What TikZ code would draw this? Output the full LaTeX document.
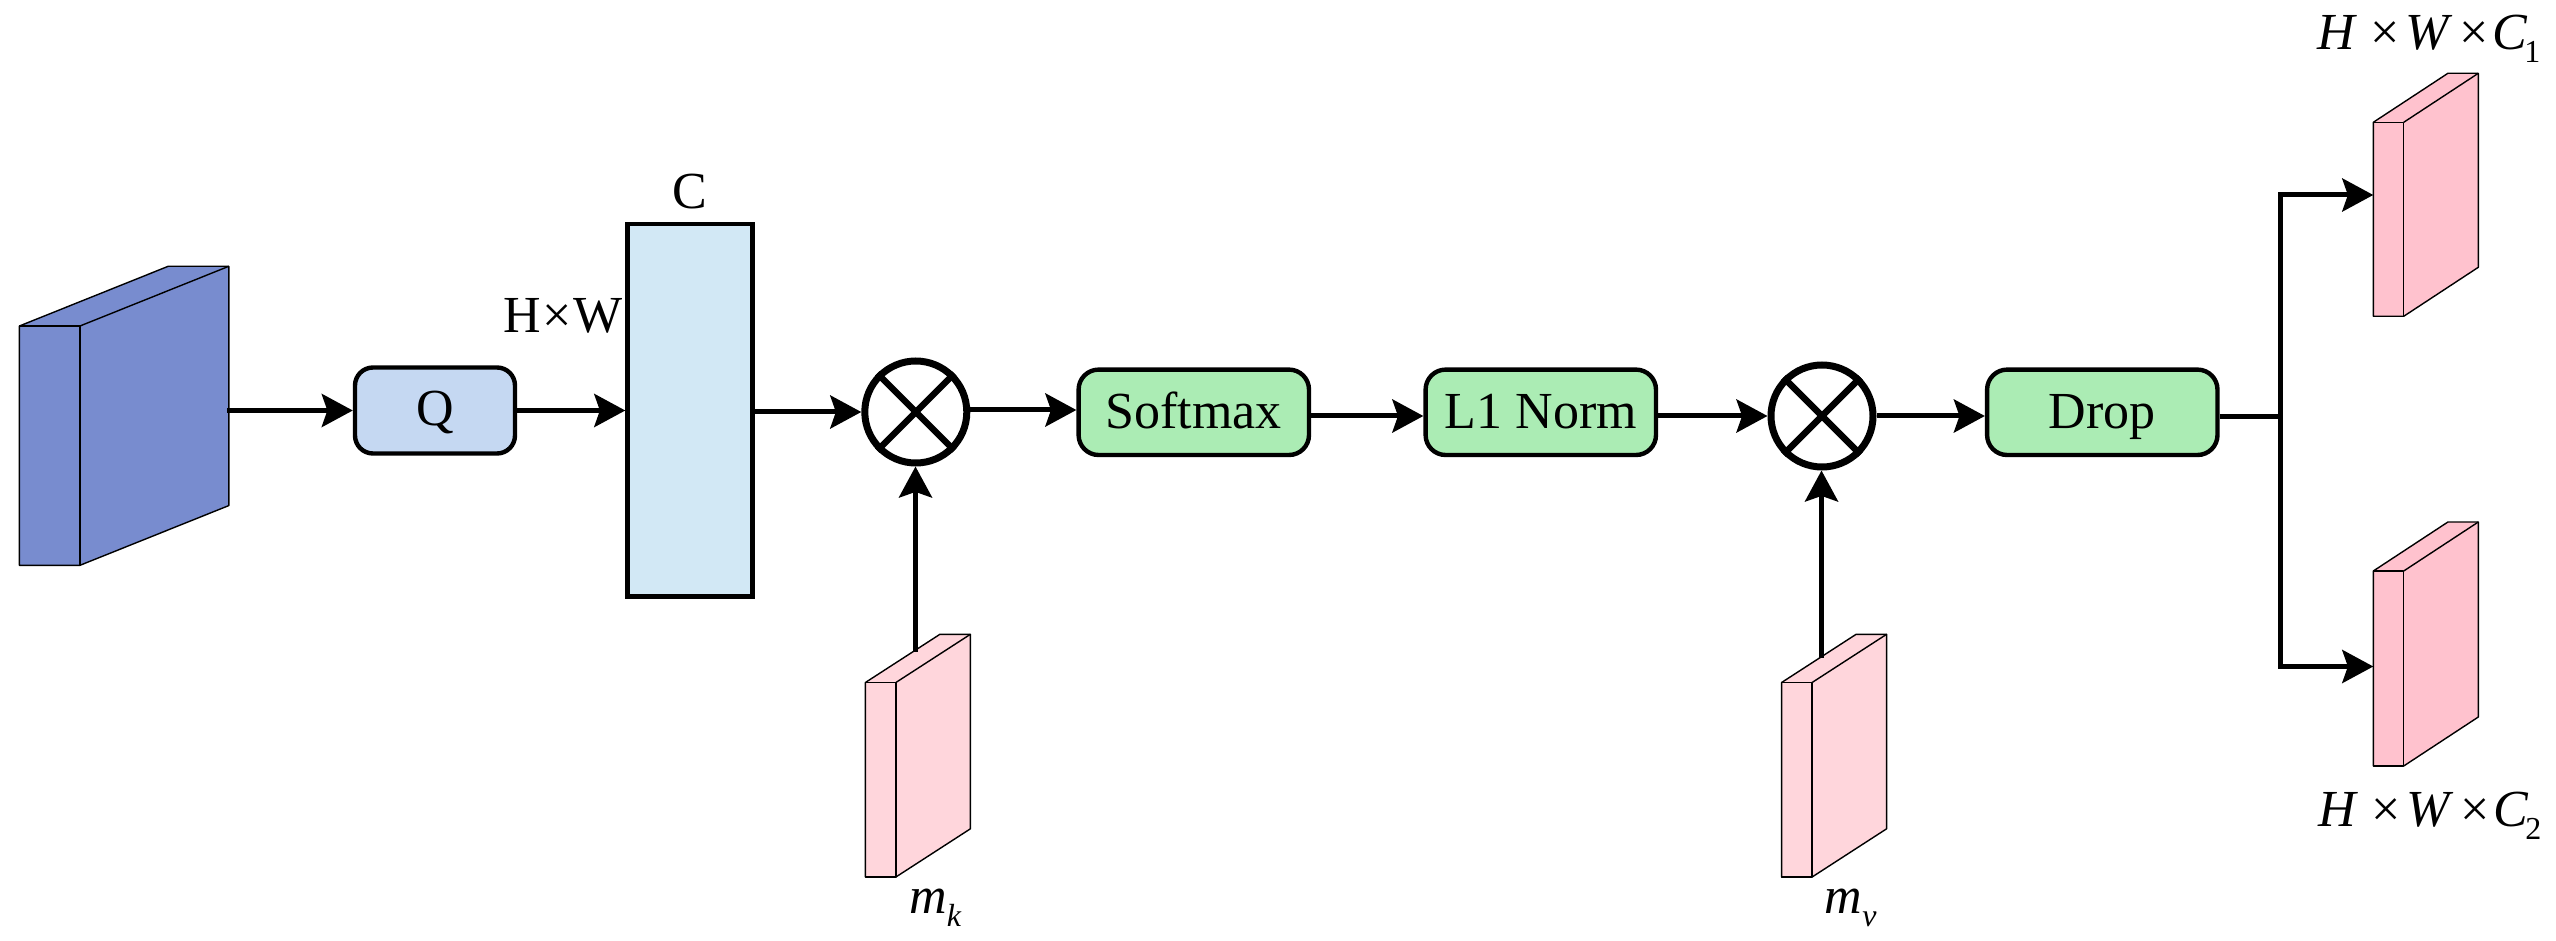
\documentclass[tikz,border=0pt]{standalone}
\usepackage{fontspec}
\setmainfont{Liberation Serif}
\usepackage{xcolor}
\usetikzlibrary{arrows.meta}
\definecolor{dblue}{HTML}{788CCF}
\definecolor{lblue}{HTML}{D2E8F5}
\definecolor{qblue}{HTML}{C5D8F2}
\definecolor{lgreen}{HTML}{ABECB4}
\definecolor{lpink}{HTML}{FFD6DC}
\definecolor{dpink}{HTML}{FFC2CE}
\newcommand\smallsub[1]{\raisebox{-6.5pt}{\fontsize{16}{16}\selectfont #1}}
\newcommand\sizelabel[1]{\textit{H}\kern6.5pt×\kern3pt\textit{W}\kern3.5pt×\kern1.5pt\textit{C}\kern-1.5pt\smallsub{#1}}
% name, colour, left, front top, front width, depth, rise, height
\newcommand\slab[8]{%
  \draw[slabline,fill=#2] (#3,#4) -- ++(#6,-#7) -- ++(#5,0) -- ++(0,#8) -- ++(-#6,#7) -- ++(-#5,0) -- cycle;
  \draw[slabline] (#3,#4) rectangle ++(#5,#8);
  \draw[slabline] (#3,#4) ++(#5,0) -- ++(#6,-#7);
  \coordinate (#1) at (#3,#4);
}
\tikzstyle{slabline}=[line width=.7pt,line join=round]
\tikzstyle{flowhead}=[>/.tip={Stealth[length=15.5pt,width=16.5pt,inset=2.8pt]}]
\tikzstyle{flow}=[line width=2.5pt,flowhead,->]
\tikzstyle{txt}=[font=\fontsize{26}{30}\selectfont,inner sep=0pt]
\tikzstyle{opbox}=[txt,draw,line width=2.2pt,rounded corners=10pt,text height=16.7pt,text depth=0pt,minimum height=42.7pt,minimum width=115.2pt]
\tikzstyle{mulop}=[draw,circle,line width=3.5pt,minimum size=51pt,inner sep=0pt,fill=white]
\tikzstyle{crossbar}=[line width=3.2pt]

\begin{document}
\begin{tikzpicture}[x=.5pt,y=-.5pt]
	\useasboundingbox (0,0) rectangle (2556,941);
	\slab{inblock}{dblue}{19.4}{326}{60.6}{148.8}{59.7}{239.3}
	\slab{mkblock}{lpink}{865.4}{682.5}{30.5}{74.5}{48.2}{194.5}
	\slab{mvblock}{lpink}{1781.6}{682.5}{30.5}{74.5}{48.2}{194.5}
	\slab{outa}{dpink}{2373.3}{122.3}{30.4}{74.6}{49}{194}
	\slab{outb}{dpink}{2373.3}{571}{30.4}{74.6}{49}{195}
	\node[opbox,fill=qblue,minimum width=80pt,minimum height=43pt,rounded corners=9pt,text height=14.5pt] (q) at (435,410.5) {Q};
	\node[draw,line width=2.2pt,fill=lblue,minimum width=62.5pt,minimum height=186pt,inner sep=0pt] (cbox) at (690,410.3) {};
	\node[mulop] (mula) at (915.8,412) {};
	\node[opbox,fill=lgreen] (softmax) at (1193.8,412.3) {Softmax};
	\node[opbox,fill=lgreen] (lnorm) at (1540.8,412.3) {L1 Norm};
	\node[mulop] (mulb) at (1822,416) {};
	\node[opbox,fill=lgreen] (drop) at (2102.3,412.3) {Drop};
	\draw[crossbar] (mula.north west) -- (mula.south east);
	\draw[crossbar] (mula.north east) -- (mula.south west);
	\draw[crossbar] (mulb.north west) -- (mulb.south east);
	\draw[crossbar] (mulb.north east) -- (mulb.south west);
	\coordinate (inout) at (227,410.5);
	\coordinate (mkout) at (915.5,652);
	\coordinate (mvout) at (1821.5,658);
	\coordinate (sfin) at (1000,410);
	\coordinate (fork) at (2280,417);
	\coordinate (upin) at (2373.3,195);
	\coordinate (downin) at (2373.3,666.5);
	\draw[flow] (inout) -- (q.west);
	\draw[flow] (q.east) -- (cbox.west |- q);
	\draw[flow] (cbox.east |- mula) -- (mula.west);
	\draw[flow] (mkout) -- (mkout |- mula.south);
	\draw[flow] (mula.east |- sfin) -- (softmax.west |- sfin);
	\draw[flow] (softmax.east |- mulb) -- (lnorm.west |- mulb);
	\draw[flow] (lnorm.east |- mulb) -- (mulb.west);
	\draw[flow] (mvout) -- (mvout |- mulb.south);
	\draw[flow] (mulb.east) -- (drop.west |- mulb);
	\draw[line width=2.5pt] (drop.east |- fork) -- (fork);
	\draw[flow] (fork) |- (upin);
	\draw[flow] (fork) |- (downin);
	\node[txt,anchor=base] (hw) at (563,332.7) {H\kern1pt×\kern1ptW};
	\node[txt,anchor=base] (clabel) at (690,209) {C};
	\node[txt,anchor=base west] (mk) at (909,913.6) {\textit{m}\smallsub{\textit{k}}};
	\node[txt,anchor=base west] (mv) at (1824.5,913.6) {\textit{m}\smallsub{\textit{v}}};
	\node[txt,anchor=base west] (sizea) at (2317,49.3) {\sizelabel{1}};
	\node[txt,anchor=base west] (sizeb) at (2318,826.7) {\sizelabel{2}};
\end{tikzpicture}
\end{document}
